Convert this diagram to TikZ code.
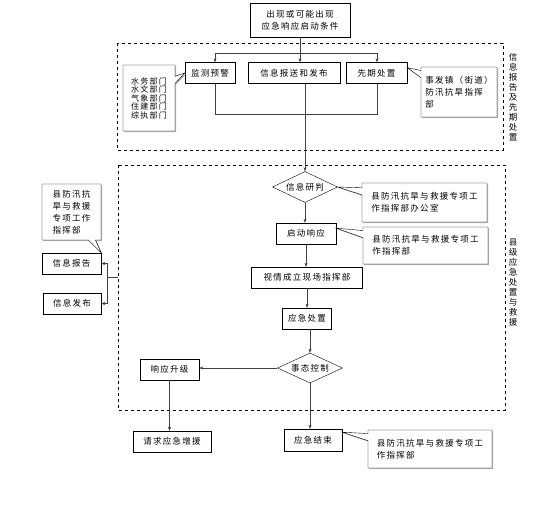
\documentclass[tikz,border=0pt]{standalone}
\usepackage{fontspec}
\setmainfont{Noto Sans CJK SC}[LetterSpace=15]
\usetikzlibrary{arrows.meta,shapes.geometric,shapes.callouts,shadows}

\begin{document}
\begin{tikzpicture}[
	x = 1pt, y = -1pt,
	>= {Stealth[length = 4pt, width = 3pt]},
	every node/.style = {font = \fontsize{8.5}{12}\selectfont},
	box/.style = {draw, inner sep = 1pt, minimum height = 21},
	check/.style = {draw, diamond, aspect = 2, inner sep = 0pt, minimum width = 65, minimum height = 31},
	note/.style = {draw, fill = white, rectangle callout, align = left, inner sep = 2pt,
		drop shadow = {shadow xshift = 1.2pt, shadow yshift = -1.2pt, opacity = 0.6, fill = gray}},
	stack/.style = {align = center, inner sep = 0pt, font = \fontsize{8.5}{10}\selectfont},
	line/.style = {draw = black!75},
	flow/.style = {line, ->}
	]

	\useasboundingbox (0,0) rectangle (559,509);

	\draw[dashed] (117,43) rectangle (503,150);
	\draw[dashed] (118,165) rectangle (505,410);
	\node[stack] (lab1) at (513,97) {信\\息\\报\\告\\及\\先\\期\\处\\置};
	\node[stack] (lab2) at (513,282) {县\\级\\应\\急\\处\\置\\与\\救\\援};

	\node[box, align = center, minimum width = 100, minimum height = 34] (start) at (300,20) {出现或可能出现\\应急响应启动条件};
	\node[box, minimum width = 50] (jc) at (210,73) {监测预警};
	\node[box, minimum width = 92] (bs) at (294,73) {信息报送和发布};
	\node[box, minimum width = 61] (xq) at (376.5,73) {先期处置};

	\node[check] (yp) at (305,187) {信息研判};
	\node[box, minimum width = 60] (qd) at (306,233.5) {启动响应};
	\node[box, minimum width = 111] (xc) at (307,277.5) {视情成立现场指挥部};
	\node[box, minimum width = 49] (cz) at (307,318.5) {应急处置};
	\node[check, minimum height = 30] (kz) at (310,368) {事态控制};
	\node[box, minimum width = 59] (sj) at (169.5,369.5) {响应升级};
	\node[box, minimum width = 78] (zy) at (172,441.5) {请求应急增援};
	\node[box, minimum width = 58, minimum height = 22] (js) at (313,440) {应急结束};
	\node[box, minimum width = 59] (xb) at (71.5,263.5) {信息报告};
	\node[box, minimum width = 58] (fb) at (72,303.5) {信息发布};

	\coordinate (f1) at (215,53);
	\coordinate (f2) at (377,53);
	\draw[line] (start.south) -- (start.south |- f1);
	\draw[line] (f1) -- (f2);
	\draw[flow] (f1) -- (f1 |- jc.north);
	\draw[flow] (start.south |- f1) -- (start.south |- bs.north);
	\draw[flow] (f2) -- (f2 |- xq.north);
	\draw[line] (f1 |- jc.south) -- ++(0,30) -| (f2 |- xq.south);

	\draw[flow] (yp.north |- bs.south) -- (yp.north);
	\draw[flow] (yp.south) -- (yp.south |- qd.north);
	\draw[flow] (qd.south) -- (qd.south |- xc.north);
	\draw[flow] (xc.south) -- (xc.south |- cz.north);
	\draw[flow] (kz.north |- cz.south) -- (kz.north);
	\draw[flow] (kz.west) -- (kz.west -| sj.east);
	\draw[flow] (sj.south) -- (sj.south |- zy.north);
	\draw[flow] (kz.south) -- (kz.south |- js.north);

	\coordinate (lb) at (118,277);
	\coordinate (lm) at (107,277);
	\draw[line] (lb) -- (lm);
	\draw[flow] (lm) |- (xb.east);
	\draw[flow] (lm) |- (fb.east);

	\node[note, minimum width = 52, minimum height = 66, font = \fontsize{8}{8.5}\selectfont, callout absolute pointer = {(jc.west)}] (cb1) at (149,98) {水务部门\\水文部门\\气象部门\\住建部门\\综执部门};
	\node[note, minimum width = 76, minimum height = 50, callout absolute pointer = {(xq.10)}] (cb2) at (459,92) {事发镇（街道）\\防汛抗旱指挥\\部};
	\node[note, minimum width = 125, minimum height = 39, callout absolute pointer = {(yp.east)}] (cb3) at (424.5,202.5) {县防汛抗旱与救援专项工\\作指挥部办公室};
	\node[note, minimum width = 125, minimum height = 37, callout absolute pointer = {(qd.10)}] (cb4) at (425.5,245.5) {县防汛抗旱与救援专项工\\作指挥部};
	\node[note, minimum width = 124, minimum height = 38, callout absolute pointer = {(js.15)}] (cb5) at (430,449) {县防汛抗旱与救援专项工\\作指挥部};
	\node[note, minimum width = 59, minimum height = 56, callout absolute pointer = {(xb.north east)}] (cb6) at (71.5,212) {县防汛抗\\旱与救援\\专项工作\\指挥部};

\end{tikzpicture}
\end{document}
